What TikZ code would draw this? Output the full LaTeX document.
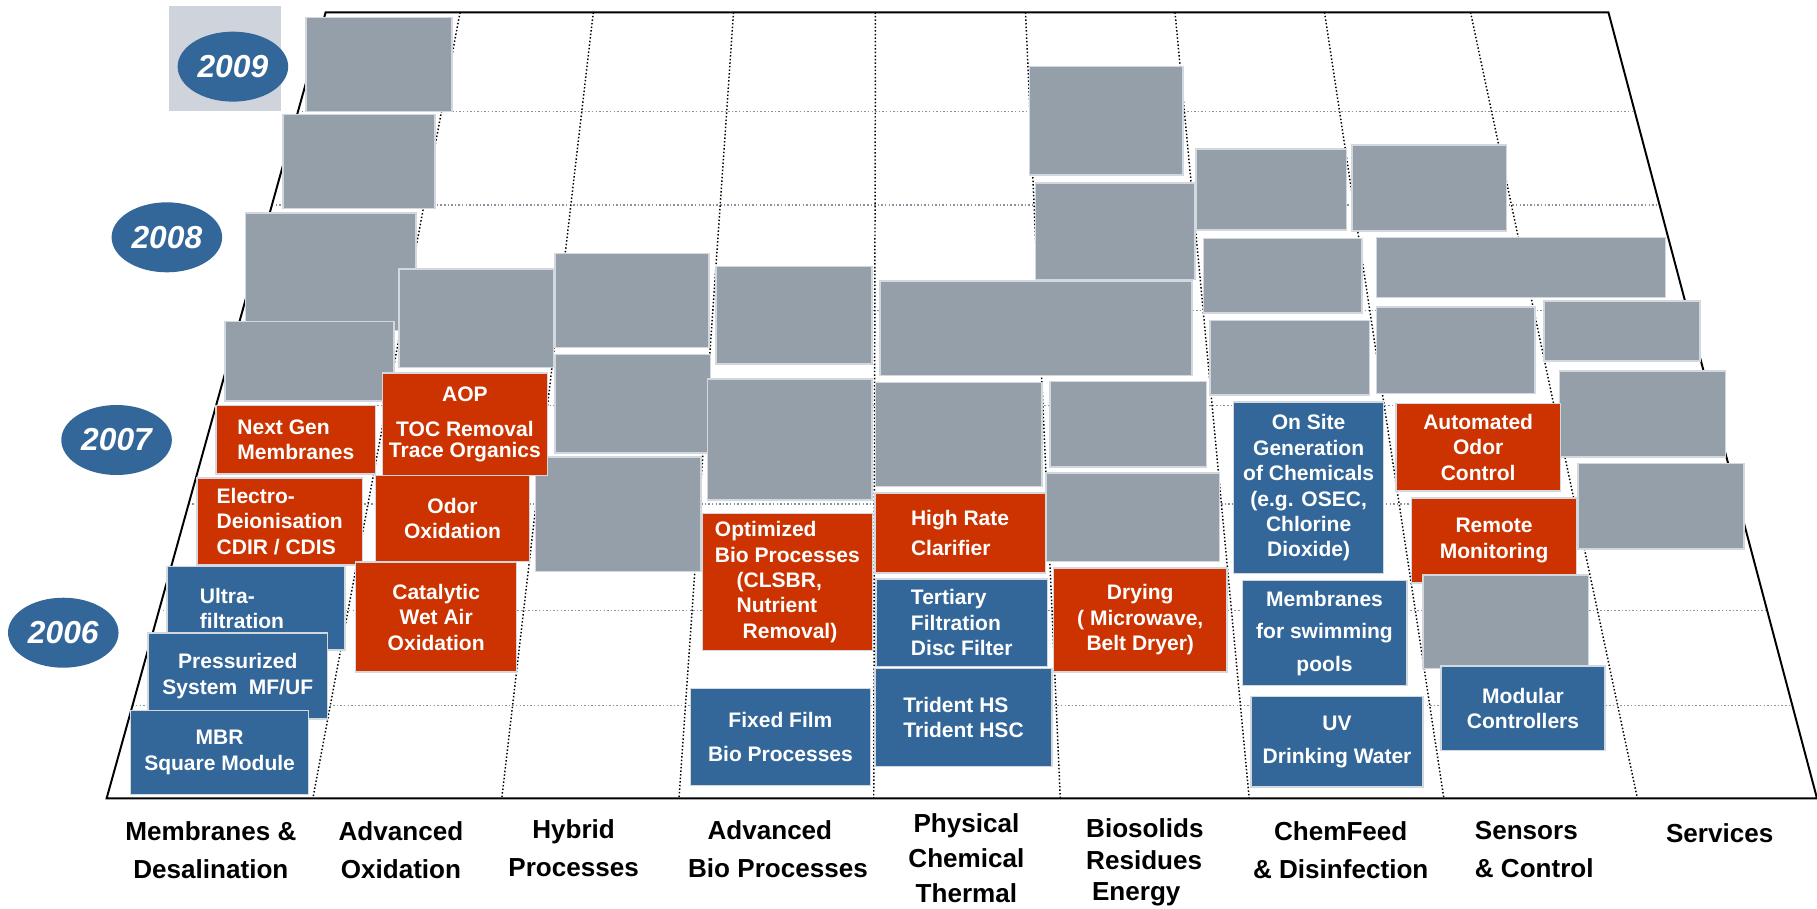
\documentclass[tikz,border=0pt]{standalone}
\usepackage{fontspec}
\setmainfont{Liberation Sans}
\usepackage{xcolor}
\usepackage{tikz}
\usetikzlibrary{shapes.geometric,calc}

\definecolor{slate}{HTML}{959FAA}
\definecolor{rust}{HTML}{CC3300}
\definecolor{steel}{HTML}{336699}
\definecolor{rim}{HTML}{D3D8DE}
\definecolor{haze}{HTML}{CFD3DB}
\definecolor{gridgrey}{HTML}{8893A0}

\newcommand{\cardfont}{\fontsize{12.9}{15.6}\selectfont\bfseries}
\newcommand{\catfont}{\fontsize{16}{23.3}\selectfont\bfseries}
\newcommand{\yrfont}{\fontsize{19.5}{20}\selectfont\bfseries\itshape}

\begin{document}
\begin{tikzpicture}[
  x=0.025cm, y=-0.025cm,
  outline/.style={line width=1.2pt, line join=miter},
  vgrid/.style={line width=0.9pt, dash pattern=on 0.9pt off 1.3pt},
  hgrid/.style={gridgrey, line width=0.9pt, dash pattern=on 0.9pt off 1.3pt},
  tile/.style 2 args={draw=rim, line width=0.9pt, inner sep=0pt, minimum width=#1*0.025cm, minimum height=#2*0.025cm},
  greybox/.style 2 args={tile={#1}{#2}, fill=slate},
  redbox/.style 2 args={tile={#1}{#2}, fill=rust, text=white, font=\cardfont, align=center},
  bluebox/.style 2 args={tile={#1}{#2}, fill=steel, text=white, font=\cardfont, align=center},
  year/.style={ellipse, fill=steel, text=white, font=\yrfont, inner sep=0pt, minimum width=95.4*0.025cm, minimum height=60.4*0.025cm},
  area/.style={font=\catfont, align=center, anchor=north, inner sep=0pt}
]
\useasboundingbox (0,0) rectangle (1568,784);
\coordinate (tl) at (281,10.6);
\coordinate (tr) at (1388,10.6);
\coordinate (bl) at (92,689);
\coordinate (br) at (1568,689);

\fill[haze] (146,5.2) rectangle (242.5,95.5);
\node[year] (y2009) at (201,57.5) {2009};
\node[year] (y2008) at (144,204.8) {2008};
\node[year] (y2007) at (100.6,379.7) {2007};
\node[year] (y2006) at (54.6,546) {2006};

\foreach \f in {0.126,0.245,0.3795,0.5,0.6256,0.7608,0.8821}
  \draw[hgrid] ($(tl)!\f!(bl)$) -- ($(tr)!\f!(br)$);
\foreach \t/\b in {397/270,512/433,633/586,755.5/754,885/915,1014/1078,1143/1246,1269/1413}
  \draw[vgrid] (\t,10.6) -- (\b,689);
\draw[outline] (tl) -- (tr) -- (br) -- (bl) -- cycle;

\node[greybox={126}{81}] (g1) at (327,55.5) {};
\node[greybox={131.5}{81.4}] (g2) at (309.8,139.3) {};
\node[greybox={147}{101}] (g3) at (285.5,234.5) {};
\node[greybox={146}{68.4}] (g4) at (267,311.8) {};
\node[greybox={133}{85}] (g5) at (411,274.5) {};
\node[greybox={133}{81.4}] (g6) at (545.5,259.3) {};
\node[greybox={134}{85}] (g7) at (546,348.5) {};
\node[greybox={143}{98.5}] (g8) at (533.5,443.8) {};
\node[greybox={134.5}{84}] (g9) at (685.3,272) {};
\node[greybox={142}{104.5}] (g10) at (681.5,379.3) {};
\node[greybox={269}{81.5}] (g11) at (894,283.3) {};
\node[greybox={143.5}{90}] (g12) at (827.3,375) {};
\node[greybox={135}{74}] (g13) at (973.5,366) {};
\node[greybox={150}{76.7}] (g14) at (977.6,446.4) {};
\node[greybox={132.5}{93.5}] (g15) at (954.8,104.3) {};
\node[greybox={137.3}{83}] (g16) at (962.4,199.5) {};
\node[greybox={130}{70}] (g17) at (1096.9,163.6) {};
\node[greybox={133.3}{74.4}] (g18) at (1233.4,162.2) {};
\node[greybox={136.7}{64.3}] (g19) at (1107,237.9) {};
\node[greybox={249.4}{51.7}] (g20) at (1312.7,230.7) {};
\node[greybox={138}{64.3}] (g21) at (1113,308.9) {};
\node[greybox={136.7}{74.5}] (g22) at (1256.4,302.3) {};
\node[greybox={134.5}{51.8}] (g23) at (1399.8,285.7) {};
\node[greybox={143}{74.5}] (g24) at (1417.5,357.3) {};
\node[greybox={143.2}{74}] (g25) at (1433.4,436.8) {};

\node[redbox={137.5}{59}, align=left] (nextgen) at (255.3,379.5) {Next Gen\\Membranes};
\node[redbox={142.4}{88.5}] (aop) at (401.2,366.3) {AOP\\[6pt]TOC Removal\\[-2.4pt]Trace Organics};
\node[redbox={142.8}{75}, align=left] (edi) at (241.4,450.1) {Electro-\\Deionisation\\CDIR / CDIS};
\node[redbox={133}{74.2}] (odorox) at (390.5,447.6) {Odor\\Oxidation};
\node[bluebox={153.5}{72}, align=left] (uf) at (220.8,525) {Ultra-\\filtration\hspace*{17pt}};
\node[redbox={138.8}{95}] (wetair) at (376.4,532.5) {Catalytic\\Wet Air\\Oxidation};
\node[bluebox={155.2}{74.5}] (mfuf) at (205.2,583.3) {Pressurized\\System~ MF/UF};
\node[bluebox={153.9}{72.2}] (mbr) at (189.5,649.4) {MBR\\Square Module};
\node[redbox={147}{118.5}, align=left] (optbio) at (679.5,502.3) {Optimized\\Bio Processes\\\hspace*{13.3pt}(CLSBR,\\\hspace*{13.3pt}Nutrient\\\hspace*{17pt}Removal)};
\node[bluebox={155}{84}] (fixfilm) at (673.5,636) {Fixed Film\\[4.8pt]Bio Processes};
\node[redbox={147}{69}, align=left] (clarifier) at (828.5,460.1) {High Rate\\[2.9pt]Clarifier};
\node[bluebox={148}{75.3}, align=left] (tertiary) at (830,537.4) {Tertiary\\Filtration\\Disc Filter};
\node[bluebox={153}{84.6}, align=left] (trident) at (831.5,619.3) {Trident HS\\Trident HSC};
\node[redbox={150}{89.7}] (drying) at (984,534.9) {Drying\\( Microwave,\\Belt Dryer)};
\node[bluebox={129.4}{148}] (onsite) at (1129.3,421) {On Site\\Generation\\of Chemicals\\(e.g. OSEC,\\Chlorine\\Dioxide)};
\node[redbox={142.2}{75.7}] (odorctl) at (1275.6,385.9) {Automated\\Odor\\Control};
\node[redbox={142.6}{73.5}] (remote) at (1289.3,466.3) {Remote\\Monitoring};
\node[greybox={143}{81}] (g26) at (1299.5,536.5) {};
\node[bluebox={142}{90.7}] (pools) at (1143,546.4) {Membranes\\[4.3pt]for swimming\\[4.3pt]pools};
\node[bluebox={148.4}{78}] (uv) at (1153.8,640) {UV\\[4.6pt]Drinking Water};
\node[bluebox={141.5}{73.3}] (modular) at (1314.3,611.2) {Modular\\Controllers};

\node[area] (c1) at (182,708.6) {Membranes \&\\Desalination};
\node[area] (c2) at (346,708.6) {Advanced\\Oxidation};
\node[area] (c3) at (495,707) {Hybrid\\Processes};
\node[area] (c4) at (671.4,707.6) {Advanced\hspace*{10pt}\\Bio Processes};
\node[area] (c5) at (834,702) {Physical\\[-2pt]Chemical\\[-2pt]Thermal};
\node[area, align=left] (c6) at (988,706) {Biosolids\\[-3.8pt]Residues\\[-3.8pt]\hspace*{3.6pt}Energy};
\node[area] (c7) at (1157,708.6) {ChemFeed\\\& Disinfection};
\node[area, align=left] (c8) at (1324,708.6) {Sensors\\\& Control};
\node[area] (c9) at (1484,710.6) {Services};
\end{tikzpicture}
\end{document}
